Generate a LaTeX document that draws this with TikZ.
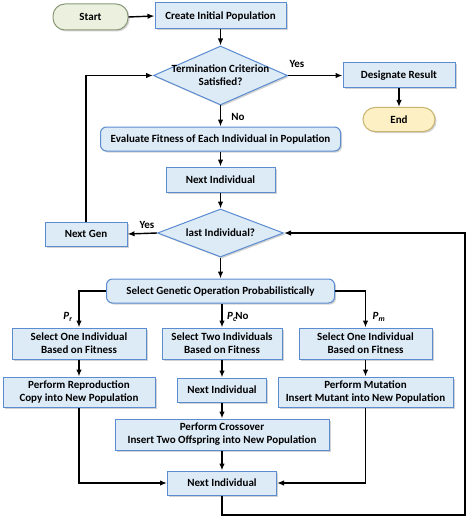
\documentclass[tikz,border=0pt]{standalone}
\usepackage{fontspec}
\setmainfont{Carlito}
\usetikzlibrary{shapes.geometric,arrows.meta,shadows}
\definecolor{boxfill}{HTML}{DDEBF7}
\definecolor{boxline}{HTML}{5B8BD0}
\definecolor{startfill}{HTML}{EBF1DE}
\definecolor{startline}{HTML}{8A9A78}
\definecolor{endfill}{HTML}{FDF0C4}
\definecolor{endline}{HTML}{C8B46E}
\begin{document}
\begin{tikzpicture}[x=1pt,y=-1pt,
  font=\fontsize{11}{13}\selectfont\bfseries,
  shad/.style={drop shadow={shadow xshift=1.5pt,shadow yshift=-1.5pt,fill=black!35,opacity=0.5}},
  box/.style={draw=boxline,fill=boxfill,line width=1pt,inner sep=0pt,align=center,shad},
  rbox/.style={box,rounded corners=6pt},
  dia/.style={diamond,draw=boxline,fill=boxfill,line width=1pt,inner sep=0pt,shad},
  startbox/.style={draw=startline,fill=startfill,line width=1pt,inner sep=0pt,rounded corners=12pt,shad},
  endbox/.style={draw=endline,fill=endfill,line width=1pt,inner sep=0pt,rounded corners=12pt,shad},
  arr/.style={-{Latex[length=7pt,width=5.5pt]},line width=1.4pt,black},
  lbl/.style={inner sep=0pt},
  plbl/.style={inner sep=0pt,font=\fontsize{11}{13}\selectfont\bfseries\itshape}
]
\useasboundingbox[fill=white] (0,0) rectangle (474,524);
% nodes
\node[startbox,minimum width=75pt,minimum height=26pt] (start) at (90.5,17) {Start};
\node[box,minimum width=131pt,minimum height=26pt] (create) at (220.5,16) {Create Initial Population};
\node[dia,minimum width=134pt,minimum height=59pt] (term) at (220.5,75.5) {};
\node[lbl,align=center] (termtext) at (term.center) {Termination Criterion\\Satisfied?};
\node[box,minimum width=112pt,minimum height=25pt] (desig) at (399,75.5) {Designate Result};
\node[endbox,minimum width=72pt,minimum height=24pt] (endn) at (399,119.5) {End};
\node[rbox,minimum width=240pt,minimum height=24pt] (eval) at (220.5,139) {Evaluate Fitness of Each Individual in Population};
\node[box,minimum width=109pt,minimum height=25pt] (ni1) at (220.5,179.5) {Next Individual};
\node[dia,minimum width=126pt,minimum height=48pt] (last) at (220.5,233) {};
\node[lbl] (lasttext) at (last.center) {last Individual?};
\node[box,minimum width=82pt,minimum height=24pt] (nextgen) at (86,234) {Next Gen};
\node[rbox,minimum width=228pt,minimum height=24pt] (sel) at (220.5,291) {Select Genetic Operation Probabilistically};
\node[box,minimum width=134pt,minimum height=31pt] (s1) at (79,343.5) {Select One Individual\\Based on Fitness};
\node[box,minimum width=120pt,minimum height=31pt] (s2) at (222,343.5) {Select Two Individuals\\Based on Fitness};
\node[box,minimum width=133pt,minimum height=31pt] (s3) at (365.5,343.5) {Select One Individual\\Based on Fitness};
\node[box,minimum width=152pt,minimum height=30pt] (rep) at (79,392) {Perform Reproduction\\Copy into New Population};
\node[box,minimum width=89pt,minimum height=24pt] (ni2) at (222,390) {Next Individual};
\node[box,minimum width=175pt,minimum height=30pt] (mut) at (365.5,392) {Perform Mutation\\Insert Mutant into New Population};
\node[box,minimum width=214pt,minimum height=31pt] (cross) at (222,434.5) {Perform Crossover\\Insert Two Offspring into New Population};
\node[box,minimum width=109pt,minimum height=24pt] (ni3) at (222,483) {Next Individual};
\coordinate (loopc) at (465,515);
% labels
\node[lbl] (yes1) at (297,64) {Yes};
\node[lbl] (no1) at (238,117) {No};
\node[lbl] (yes2) at (147,225) {Yes};
\node[plbl] (pr) at (68,317) {P\textsubscript{r}};
\node[plbl] (pc) at (232,317) {P\textsubscript{c}};
\node[lbl] (no2) at (242,316) {No};
\node[plbl] (pm) at (379,317) {P\textsubscript{m}};
% connectors
\draw[arr] (start.east) -- (create.west);
\draw[arr] (create.south) -- (term.north);
\draw[arr] (term.east) -- (desig.west);
\draw[arr] (desig.south) -- (desig.south |- endn.north);
\draw[arr] (term.south) -- (eval.north);
\draw[arr] (eval.south) -- (ni1.north);
\draw[arr] (ni1.south) -- (last.north);
\draw[arr] (last.west) -- (nextgen.east);
\draw[arr] (nextgen.north) |- (term.west);
\draw[arr] (last.south) -- (sel.north);
\draw[arr] (sel.west) -| (s1.north);
\draw[arr] (s2.north |- sel.south) -- (s2.north);
\draw[arr] (sel.east) -| (s3.north);
\draw[arr] (s1.south) -- (rep.north);
\draw[arr] (s2.south) -- (ni2.north);
\draw[arr] (s3.south) -- (mut.north);
\draw[arr] (ni2.south) -- (cross.north);
\draw[arr] (cross.south) -- (ni3.north);
\draw[arr] (rep.south) |- (ni3.west);
\draw[arr] (mut.south) |- (ni3.east);
\draw[arr] (ni3.south) |- (loopc) |- (last.east);
\end{tikzpicture}
\end{document}
